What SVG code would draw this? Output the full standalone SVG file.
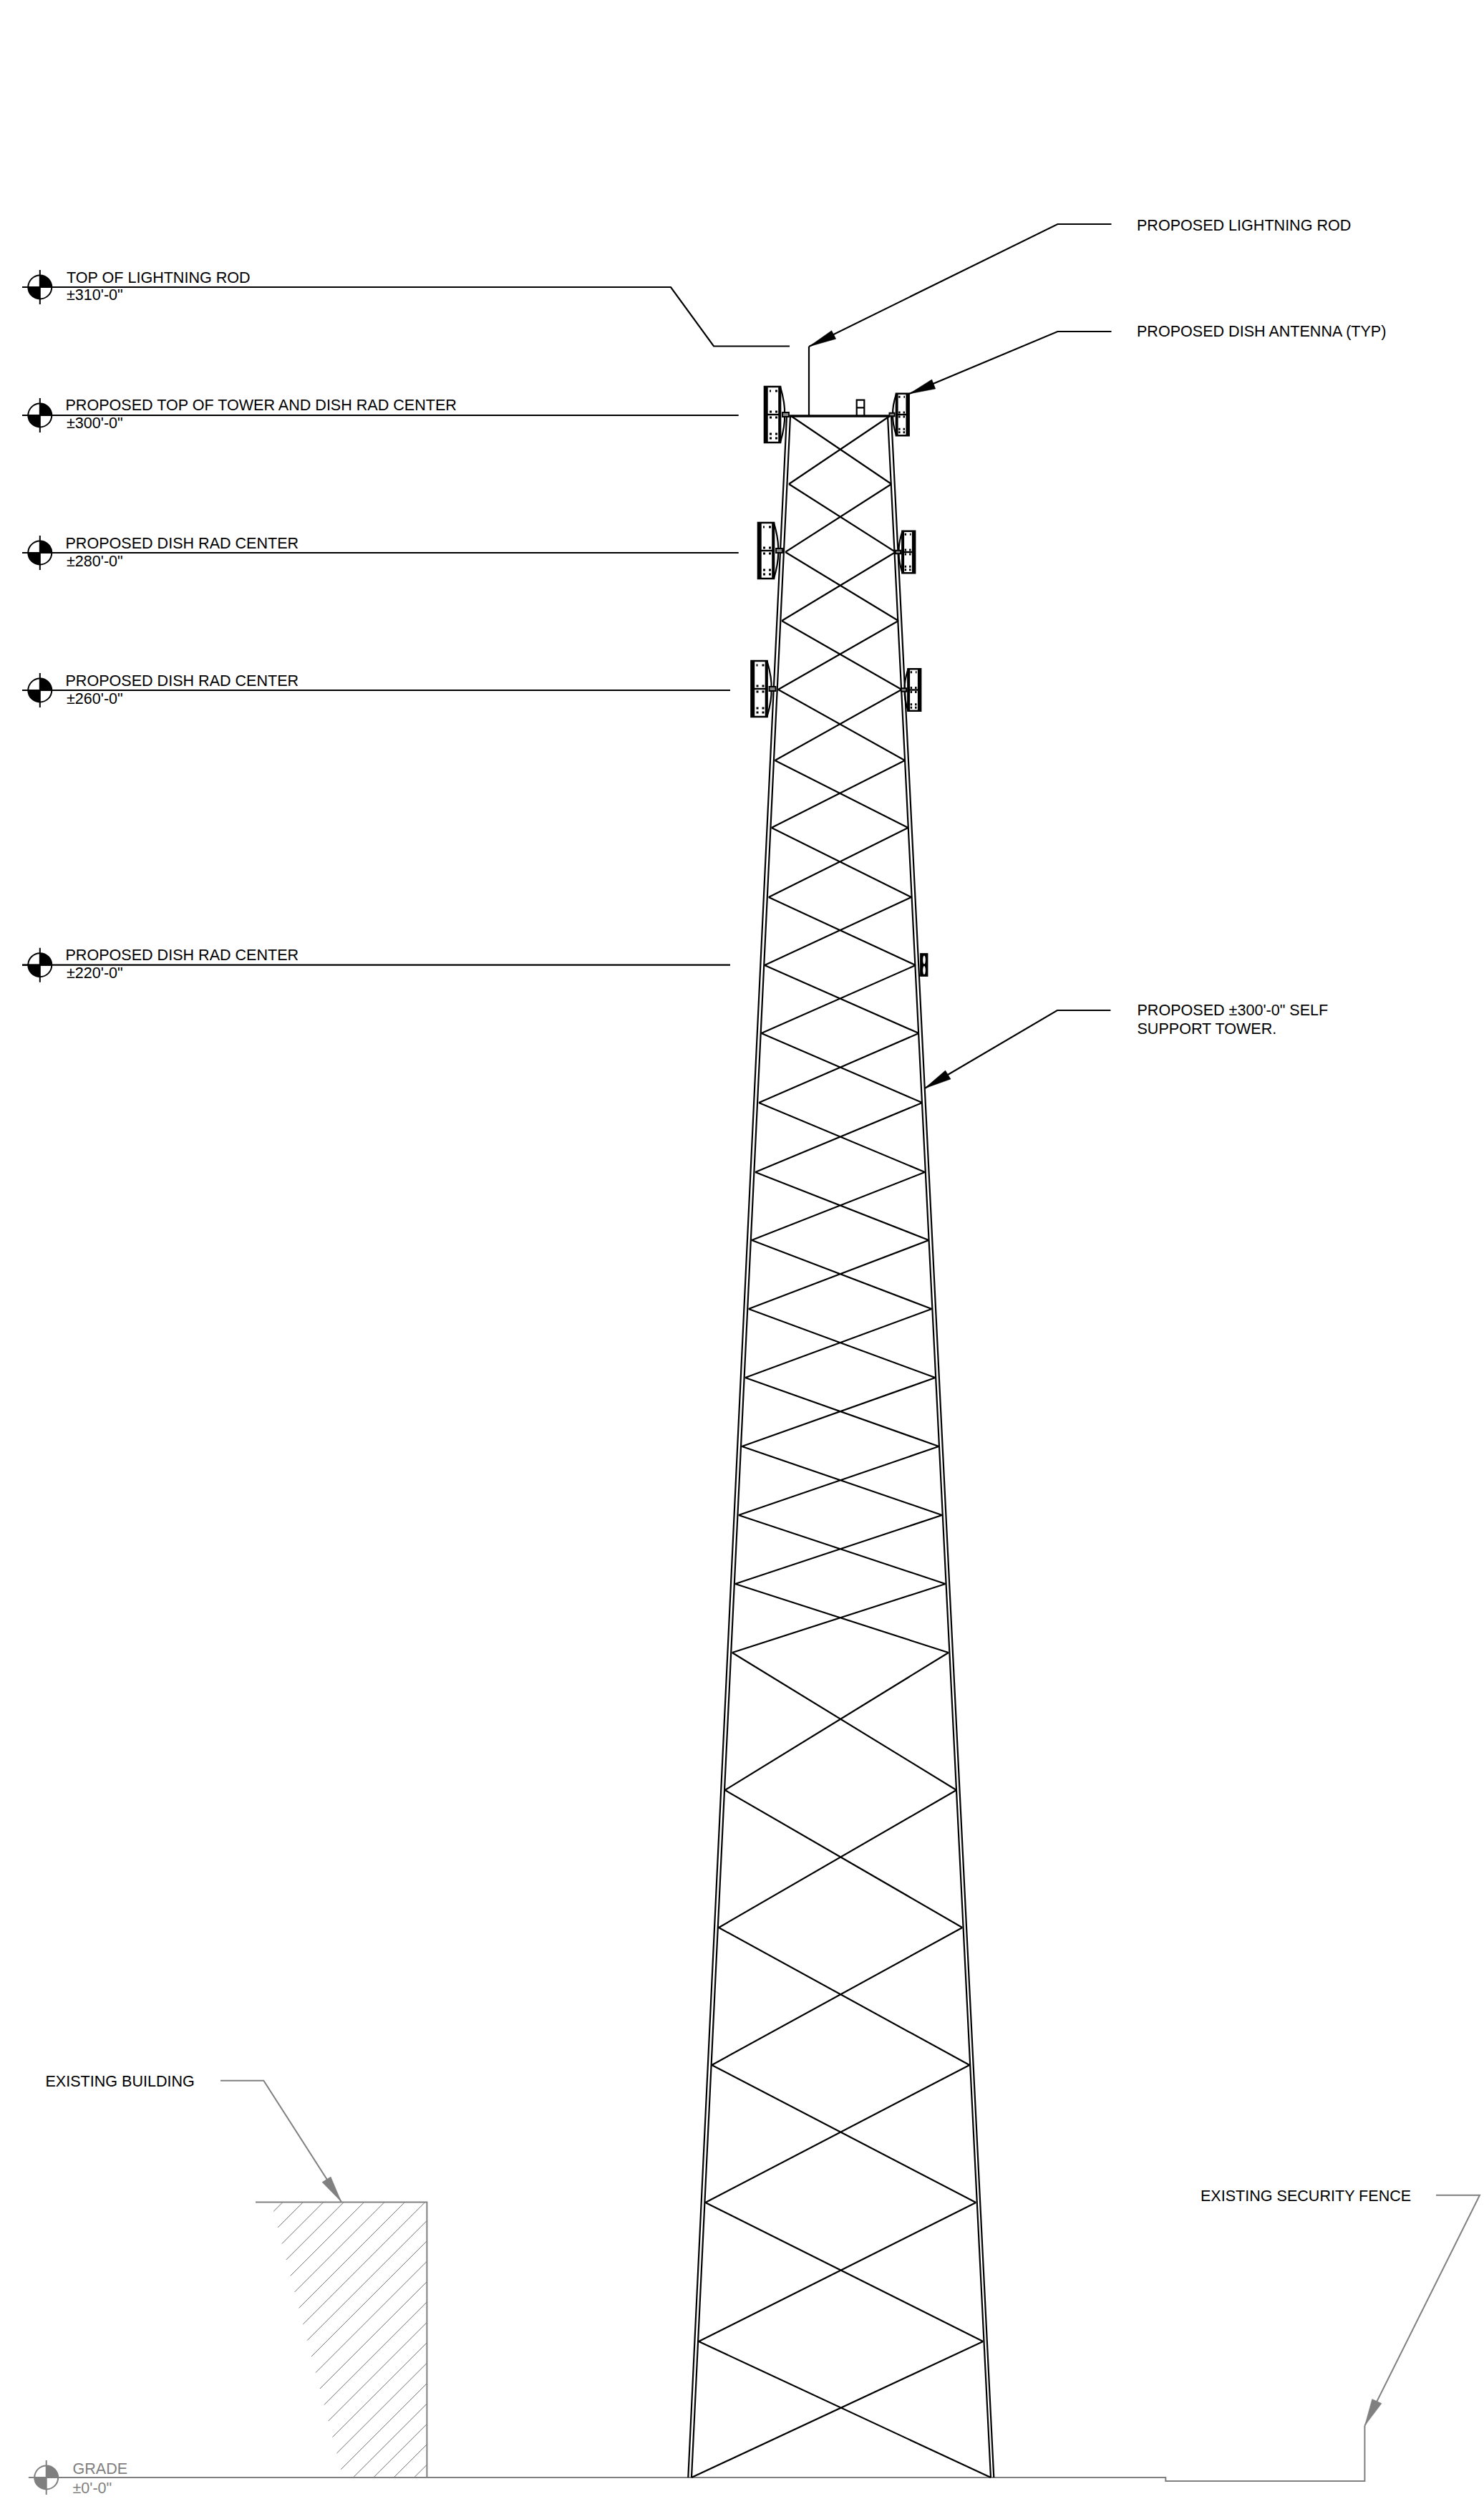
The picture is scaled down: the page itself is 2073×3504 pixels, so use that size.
<svg xmlns="http://www.w3.org/2000/svg" xmlns:xlink="http://www.w3.org/1999/xlink" width="2073" height="3504" viewBox="0 0 2073 3504">
<style>
text{font-family:"Liberation Sans",Arial,sans-serif;font-size:21.55px;fill:#000}
text.g{fill:#808080}
.k{fill:none;stroke:#000;stroke-width:2.2}
.gl{fill:none;stroke:#808080;stroke-width:2}
.h{fill:none;stroke:#707070;stroke-width:1}
.ak{fill:#000;stroke:#000;stroke-width:.5}
.ag{fill:#808080;stroke:#808080;stroke-width:.5}
#dish *{vector-effect:non-scaling-stroke}
</style>
<defs>
<g id="lvl">
<path d="M0 0V-16.5A16.5 16.5 0 0 1 16.5 0ZM0 0V16.5A16.5 16.5 0 0 1 -16.5 0Z" fill="currentColor"/>
<circle r="16.5" fill="none" stroke="currentColor" stroke-width="2"/>
<path d="M0 -24V24M-24.8 0H16" fill="none" stroke="currentColor" stroke-width="2"/>
</g>
<g id="dish">
<rect x="-22" y="-39" width="22" height="78" fill="#fff" stroke="#000" stroke-width="2.6"/>
<path d="M-19.5 -39V39" fill="none" stroke="#000" stroke-width="4.4"/>
<path d="M-1 -39V39" fill="none" stroke="#000" stroke-width="3.6"/>
<path d="M0 -39Q7 -15 6 0Q7 15 0 39" fill="none" stroke="#000" stroke-width="2.2"/>
<path d="M-22 0H0" fill="none" stroke="#000" stroke-width="2.4"/>
<rect x="3" y="-3" width="9" height="6" fill="#888" stroke="#000" stroke-width="1.8"/>
<path d="M-15 -33h2M-7 -33h3M-15 -4h3M-7 -4h3M-15 4h3M-7 4h3M-15 27h3M-7 27h3M-15 33h3M-7 33h3" fill="none" stroke="#000" stroke-width="2.8"/>
</g>
</defs>
<rect width="2073" height="3504" fill="#fff"/>

<g id="building">
<path class="h" d="M382.2 3088.3L395 3075.5M388.1 3110.8L423.4 3075.5M394 3133.3L451.8 3075.5M399.8 3155.9L480.2 3075.5M405.7 3178.4L508.6 3075.5M411.6 3200.9L537 3075.5M417.5 3223.4L565.4 3075.5M423.4 3245.9L593.8 3075.5M429.2 3268.5L596.4 3101.3M435.1 3291L596.4 3129.7M441 3313.5L596.4 3158.1M446.9 3336L596.4 3186.5M452.8 3358.5L596.4 3214.9M458.6 3381.1L596.4 3243.3M464.5 3403.6L596.4 3271.7M470.4 3426.1L596.4 3300.1M476.3 3448.6L596.4 3328.5M493.3 3460L596.4 3356.9M521.7 3460L596.4 3385.3M550.1 3460L596.4 3413.7M578.5 3460L596.4 3442.1"/>
<path class="gl" d="M357 3075.5H596.4V3460"/>
</g>
<g id="grade">
<path class="gl" d="M40 3460H1628.3V3465H1906.4V3387.8"/>
<use href="#lvl" xlink:href="#lvl" x="64.7" y="3460" color="#808080"/>
<text class="g" x="101.5" y="3455">GRADE</text>
<text class="g" x="101.5" y="3482">±0'-0"</text>
</g>

<g id="tower">
<path class="k" d="M1099 581L961.3 3460M1104 581L966 3460M1240 581L1384 3460M1245 581L1388.3 3460"/>
<path class="k" d="M1105 581L1245.2 676M1243 581L1102 676M1102 676L1251 771M1245.2 676L1097 771M1097 771L1255 867M1251 771L1092 867M1092 867L1259.5 963M1255 867L1087 963M1087 963L1264 1062M1259.5 963L1082.5 1062M1082.5 1062L1268.5 1156M1264 1062L1077.7 1156M1077.7 1156L1273 1253M1268.5 1156L1073.7 1253M1073.7 1253L1279 1348M1273 1253L1068 1348M1068 1348L1283.5 1443M1279 1348L1063.5 1443M1063.5 1443L1288.3 1540M1283.5 1443L1060 1540M1060 1540L1292 1637M1288.3 1540L1055 1637M1055 1637L1297.5 1732M1292 1637L1050 1732M1050 1732L1301.5 1828M1297.5 1732L1045.7 1828M1045.7 1828L1306.5 1924M1301.5 1828L1041 1924M1041 1924L1311.5 2020M1306.5 1924L1036.3 2020M1036.3 2020L1316 2116M1311.5 2020L1031.7 2116M1031.7 2116L1320.7 2212M1316 2116L1027 2212M1027 2212L1325 2308M1320.7 2212L1022.7 2308M1022.7 2308L1336 2500M1325 2308L1012.7 2500M1012.7 2500L1344.3 2692M1336 2500L1004 2692M1004 2692L1354.3 2884M1344.3 2692L994.3 2884M994.3 2884L1363.3 3076M1354.3 2884L985.3 3076M985.3 3076L1373.3 3270M1363.3 3076L976 3270M976 3270L1384 3460M1373.3 3270L966 3460"/>
<path d="M1103 581H1243" fill="none" stroke="#000" stroke-width="3.6"/>
</g>
<g id="lightning-rod">
<path class="k" d="M1130 581V484"/>
<path class="k" d="M1196.7 581V558.7H1207.3V581M1196.7 569.3H1207.3"/>
</g>

<g id="dish-300-left"><use href="#dish" xlink:href="#dish" transform="translate(1090 579)"/></g>
<g id="dish-300-right"><use href="#dish" xlink:href="#dish" transform="translate(1252 579) scale(-.8 .75)"/></g>
<g id="dish-280-left"><use href="#dish" xlink:href="#dish" transform="translate(1081 769)"/></g>
<g id="dish-280-right"><use href="#dish" xlink:href="#dish" transform="translate(1260.5 771) scale(-.8 .75)"/></g>
<g id="dish-260-left"><use href="#dish" xlink:href="#dish" transform="translate(1071.5 962)"/></g>
<g id="dish-260-right"><use href="#dish" xlink:href="#dish" transform="translate(1268.5 963.5) scale(-.8 .75)"/></g>
<g id="dish-220-right">
<rect x="1286" y="1332" width="9.5" height="31" fill="#000" stroke="#000" stroke-width="1.8"/>
<ellipse cx="1291" cy="1340.5" rx="1.8" ry="6" fill="#fff"/>
<ellipse cx="1291" cy="1355" rx="1.8" ry="6" fill="#fff"/>
</g>

<g id="connectors">
<path class="k" d="M31 401H937L997 483.5H1103"/>
<path class="k" d="M31 580H1031.7"/>
<path class="k" d="M31 772H1031.7"/>
<path class="k" d="M31 964H1020"/>
<path class="k" d="M31 1347.7H1020"/>
<path class="k" d="M1552.5 313H1477.4L1130 484"/>
<polygon class="ak" points="1130,484 1161.7,461.7 1167.7,473.3"/>
<path class="k" d="M1552.5 463H1477.4L1270 550"/>
<polygon class="ak" points="1270,550 1301.7,530 1306.7,543"/>
<path class="k" d="M1551.4 1411H1476.9L1291.6 1520"/>
<polygon class="ak" points="1291.6,1520 1320.6,1495 1328,1507"/>
<path class="gl" d="M308 2905.7H368.3L476.8 3075"/>
<polygon class="ag" points="476.8,3075 450,3047.6 462,3040"/>
<path class="gl" d="M2006 3065.8H2067L1906.4 3387.8"/>
<polygon class="ag" points="1906.4,3387.8 1916.7,3350.4 1930,3356.6"/>
</g>

<g id="level-310">
<use href="#lvl" xlink:href="#lvl" x="55.8" y="401" color="#000"/>
<text x="93" y="394.5">TOP OF LIGHTNING ROD</text>
<text x="93" y="419">±310'-0"</text>
</g>
<g id="level-300">
<use href="#lvl" xlink:href="#lvl" x="55.8" y="580" color="#000"/>
<text x="91.5" y="573.3">PROPOSED TOP OF TOWER AND DISH RAD CENTER</text>
<text x="93" y="598.3">±300'-0"</text>
</g>
<g id="level-280">
<use href="#lvl" xlink:href="#lvl" x="55.8" y="772" color="#000"/>
<text x="91.5" y="765.7">PROPOSED DISH RAD CENTER</text>
<text x="93" y="790.7">±280'-0"</text>
</g>
<g id="level-260">
<use href="#lvl" xlink:href="#lvl" x="55.8" y="964" color="#000"/>
<text x="91.5" y="957.7">PROPOSED DISH RAD CENTER</text>
<text x="93" y="982.7">±260'-0"</text>
</g>
<g id="level-220">
<use href="#lvl" xlink:href="#lvl" x="55.8" y="1347.7" color="#000"/>
<text x="91.5" y="1341.4">PROPOSED DISH RAD CENTER</text>
<text x="93" y="1366.4">±220'-0"</text>
</g>

<g id="label-rod"><text x="1588" y="321.7">PROPOSED LIGHTNING ROD</text></g>
<g id="label-dish"><text x="1588" y="469.7">PROPOSED DISH ANTENNA (TYP)</text></g>
<g id="label-tower">
<text x="1588.5" y="1418.3">PROPOSED ±300'-0" SELF</text>
<text x="1588.5" y="1444.3">SUPPORT TOWER.</text>
</g>
<g id="label-building"><text x="63.5" y="2914">EXISTING BUILDING</text></g>
<g id="label-fence"><text x="1677" y="3073.8">EXISTING SECURITY FENCE</text></g>
</svg>
